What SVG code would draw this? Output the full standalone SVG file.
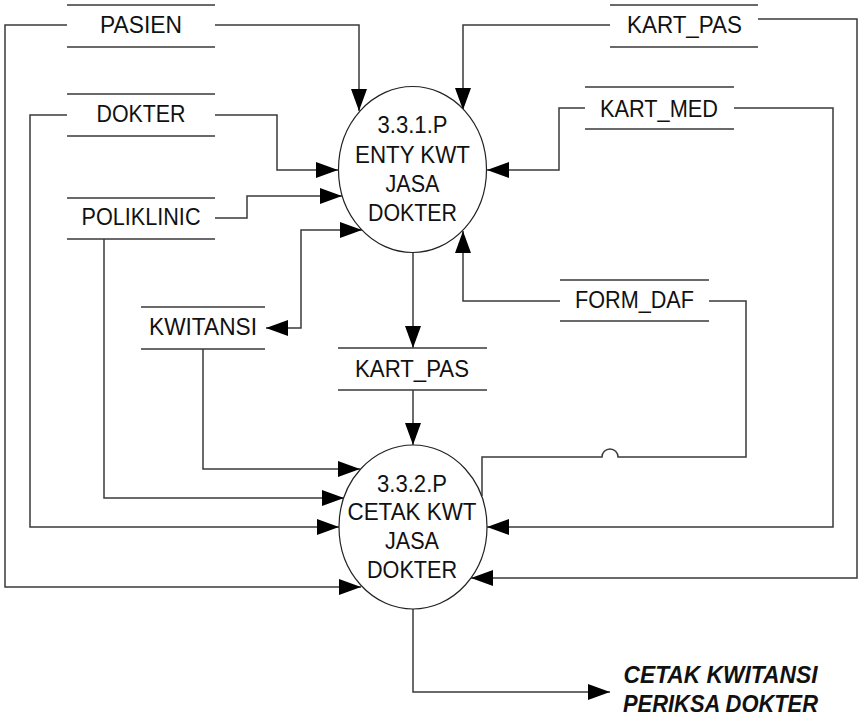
<svg xmlns="http://www.w3.org/2000/svg" width="861" height="723" viewBox="0 0 861 723">
<style>
.bg{fill:#fff}
.st{stroke:#3a3a3a;stroke-width:1.5;fill:none}
.cn{stroke:#3a3a3a;stroke-width:1.5;fill:none}
.pr{fill:#fff;stroke:#222;stroke-width:1.2}
.t{font-family:"Liberation Sans",Arial,sans-serif;font-size:23px;fill:#111;text-anchor:middle}
.o{font-family:"Liberation Sans",Arial,sans-serif;font-size:23px;font-weight:bold;font-style:italic;fill:#111;text-anchor:middle}
</style>
<defs>
<marker id="ah" markerUnits="userSpaceOnUse" markerWidth="22" markerHeight="16" refX="22" refY="8" orient="auto-start-reverse">
<path d="M0,0 L22,8 L0,16 z" fill="#000"/>
</marker>
</defs>
<rect class="bg" x="0" y="0" width="861" height="723"/>
<g id="connectors">
<path class="cn" d="M215,25 H359 V111" marker-end="url(#ah)"/>
<path class="cn" d="M67,25 H5 V587 H361" marker-end="url(#ah)"/>
<path class="cn" d="M215,115 H277 V170 H338" marker-end="url(#ah)"/>
<path class="cn" d="M67,115 H30 V527 H339" marker-end="url(#ah)"/>
<path class="cn" d="M215,218 H247 V196 H342" marker-end="url(#ah)"/>
<path class="cn" d="M104,239 V498 H344" marker-end="url(#ah)"/>
<path class="cn" d="M266,328 H301 V230 H362" marker-start="url(#ah)" marker-end="url(#ah)"/>
<path class="cn" d="M203,349 V469 H360" marker-end="url(#ah)"/>
<path class="cn" d="M413,252 V348" marker-end="url(#ah)"/>
<path class="cn" d="M413,390 V445" marker-end="url(#ah)"/>
<path class="cn" d="M610,25 H463 V110" marker-end="url(#ah)"/>
<path class="cn" d="M758,19 H857 V578 H471" marker-end="url(#ah)"/>
<path class="cn" d="M585,108 H559 V170 H487" marker-end="url(#ah)"/>
<path class="cn" d="M734,108 H833 V527 H487" marker-end="url(#ah)"/>
<path class="cn" d="M560,301 H463 V231" marker-end="url(#ah)"/>
<path class="cn" d="M709,301 H746 V457 H618 A8,8 0 0 0 602,457 H482 V496"/>
<path class="cn" d="M413,609 V692 H610" marker-end="url(#ah)"/>
</g>
<g id="p331">
<ellipse class="pr" cx="412.5" cy="169.5" rx="74" ry="83"/>
<text class="t" x="412.5" y="133" textLength="70" lengthAdjust="spacingAndGlyphs">3.3.1.P</text>
<text class="t" x="412.5" y="163" textLength="115" lengthAdjust="spacingAndGlyphs">ENTY KWT</text>
<text class="t" x="412.5" y="192" textLength="54" lengthAdjust="spacingAndGlyphs">JASA</text>
<text class="t" x="412.5" y="221" textLength="89" lengthAdjust="spacingAndGlyphs">DOKTER</text>
</g>
<g id="p332">
<ellipse class="pr" cx="413" cy="527" rx="74" ry="82"/>
<text class="t" x="412" y="492" textLength="70" lengthAdjust="spacingAndGlyphs">3.3.2.P</text>
<text class="t" x="412" y="520" textLength="129" lengthAdjust="spacingAndGlyphs">CETAK KWT</text>
<text class="t" x="412" y="549" textLength="54" lengthAdjust="spacingAndGlyphs">JASA</text>
<text class="t" x="412" y="578" textLength="90" lengthAdjust="spacingAndGlyphs">DOKTER</text>
</g>
<g id="pasien">
<path class="st" d="M67,5 H215 M67,47 H215"/>
<text class="t" x="141" y="33" textLength="82" lengthAdjust="spacingAndGlyphs">PASIEN</text>
</g>
<g id="dokter">
<path class="st" d="M67,94 H215 M67,136 H215"/>
<text class="t" x="141" y="122" textLength="89" lengthAdjust="spacingAndGlyphs">DOKTER</text>
</g>
<g id="poliklinic">
<path class="st" d="M67,198 H215 M67,239 H215"/>
<text class="t" x="141" y="225" textLength="119" lengthAdjust="spacingAndGlyphs">POLIKLINIC</text>
</g>
<g id="kwitansi">
<path class="st" d="M141,307 H265 M141,349 H265"/>
<text class="t" x="203" y="335" textLength="108" lengthAdjust="spacingAndGlyphs">KWITANSI</text>
</g>
<g id="kartpas2">
<path class="st" d="M338,348 H487 M338,390 H487"/>
<text class="t" x="412" y="377" textLength="114" lengthAdjust="spacingAndGlyphs">KART_PAS</text>
</g>
<g id="formdaf">
<path class="st" d="M560,280 H709 M560,321 H709"/>
<text class="t" x="634.5" y="308" textLength="119" lengthAdjust="spacingAndGlyphs">FORM_DAF</text>
</g>
<g id="kartpas1">
<path class="st" d="M610,5 H758 M610,47 H758"/>
<text class="t" x="684.5" y="33" textLength="115" lengthAdjust="spacingAndGlyphs">KART_PAS</text>
</g>
<g id="kartmed">
<path class="st" d="M585,87 H734 M585,129 H734"/>
<text class="t" x="659" y="117" textLength="118" lengthAdjust="spacingAndGlyphs">KART_MED</text>
</g>
<g id="output">
<text class="o" x="720.5" y="683" textLength="194" lengthAdjust="spacingAndGlyphs">CETAK KWITANSI</text>
<text class="o" x="720.5" y="712" textLength="195" lengthAdjust="spacingAndGlyphs">PERIKSA DOKTER</text>
</g>
</svg>
